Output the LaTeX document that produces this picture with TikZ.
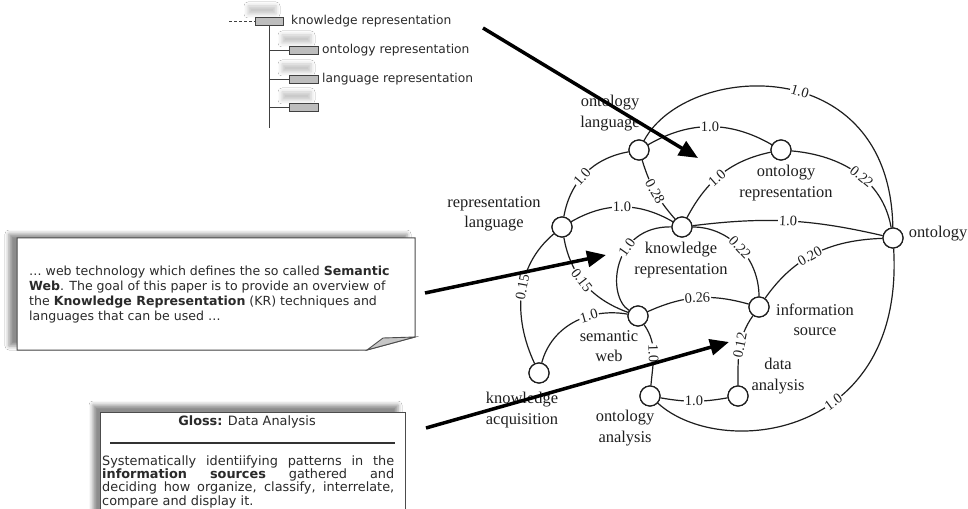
\documentclass[tikz,border=0pt]{standalone}
\usepackage{fontspec}
\setmainfont{Liberation Serif}
\newfontfamily\uifont{DejaVu Sans}
\usetikzlibrary{arrows.meta,shadows.blur}

\definecolor{ink}{HTML}{1E1E1E}
\definecolor{uitext}{HTML}{2A2A2A}
\definecolor{boxgray}{HTML}{BDBDBD}

\tikzset{
  vtx/.style={circle, draw=ink, line width=1.2bp, minimum size=20bp, inner sep=0pt, fill=white},
  link/.style={draw=ink, line width=1.2bp},
  wt/.style={font=\fontsize{14.5}{14.5}\selectfont, text=ink, fill=white, inner sep=1bp, sloped},
  vlab/.style={font=\fontsize{16.5}{20.5}\selectfont, text=ink, align=center, inner sep=0pt},
  bigarrow/.style={line width=3.5bp, draw=black, -{Triangle[length=19bp,width=16bp]}},
  tbox/.style={draw=black!75, fill=boxgray, line width=0.9bp, minimum width=28bp, minimum height=8bp, inner sep=0pt,
    blur shadow={shadow xshift=-7bp, shadow yshift=11bp, shadow opacity=22, shadow blur radius=4bp}},
  tline/.style={draw=black!75, line width=0.9bp},
  ttext/.style={font=\uifont\fontsize{12.3}{14}\selectfont, text=uitext, anchor=west, inner sep=0pt},
  notetext/.style={font=\uifont\fontsize{12.6}{14}\selectfont, text=uitext, anchor=west, inner sep=0pt},
  glosstext/.style={font=\uifont\fontsize{12.9}{14}\selectfont, text=uitext, anchor=west, inner sep=0pt},
}

\begin{document}
\begin{tikzpicture}[x=1bp, y=1bp]
\clip (0,0) rectangle (968,-509);
\fill[white] (0,0) rectangle (968,-509);

% ---------- class tree ----------
\node[tbox] (t0) at (269,-21) {};
\node[tbox, minimum width=29bp] (t1) at (303.5,-50) {};
\node[tbox, minimum width=29bp] (t2) at (303.5,-79) {};
\node[tbox, minimum width=29bp] (t3) at (303.5,-107) {};
\coordinate (tin) at (229,-21);
\coordinate (tend) at (269,-128);
\draw[tline, dashed, dash pattern=on 3bp off 2bp] (tin) -- (t0.west);
\draw[tline] (t0.south) -- (tend);
\foreach \b in {t1,t2,t3} \draw[tline] (\b.west) -- (\b.west -| t0.south);
\node[ttext] (t0l) at (291,-21) {knowledge representation};
\node[ttext] (t1l) at (322,-50) {ontology representation};
\node[ttext] (t2l) at (322,-79) {language representation};

% ---------- paper note ----------
\filldraw[draw=black!70, fill=white, line width=1bp,
  blur shadow={shadow xshift=-8bp, shadow yshift=4bp, shadow opacity=45, shadow blur radius=4bp}]
  (17,-238) -- (415,-238) -- (415,-337) -- (367,-350) -- (17,-350) -- cycle;
\filldraw[draw=black!70, fill=black!22, line width=0.9bp] (367,-350) -- (383,-338) -- (415,-337) -- cycle;
\node[notetext] (n1) at (29,-272) {\dots{} web technology which defines the so called \textbf{Semantic}};
\node[notetext] (n2) at (29,-287) {\textbf{Web}. The goal of this paper is to provide an overview of};
\node[notetext] (n3) at (29,-302) {the \textbf{Knowledge Representation} (KR) techniques and};
\node[notetext] (n4) at (29,-317) {languages that can be used \dots};

% ---------- gloss card ----------
\filldraw[draw=black!70, fill=white, line width=1bp,
  blur shadow={shadow xshift=-7bp, shadow yshift=7bp, shadow opacity=45, shadow blur radius=4bp}]
  (100,-530) -- (100,-412) -- (405,-412) -- (405,-530);
\node[glosstext, anchor=center] (gt) at (247,-422) {\textbf{Gloss:} Data Analysis};
\coordinate (rl) at (110,-443);
\coordinate (rr) at (395,-443);
\draw[draw=black!80, line width=1.2bp] (rl) -- (rr);
\node[glosstext] (g1) at (102,-462) {\makebox[292bp][s]{Systematically identiifying patterns in the}};
\node[glosstext] (g2) at (102,-475) {\makebox[292bp][s]{\textbf{information} \textbf{sources} gathered and}};
\node[glosstext] (g3) at (102,-488) {\makebox[292bp][s]{deciding how organize, classify, interrelate,}};
\node[glosstext] (g4) at (102,-502) {compare and display it.};

% ---------- concept graph: vertices ----------
\node[vtx] (OL) at (639,-150) {};
\node[vtx] (OR) at (781,-150) {};
\node[vtx] (KR) at (682,-227) {};
\node[vtx] (RL) at (562,-227) {};
\node[vtx] (O)  at (893,-238) {};
\node[vtx] (IS) at (759,-307) {};
\node[vtx] (SW) at (638,-316) {};
\node[vtx] (KA) at (539,-373) {};
\node[vtx] (OA) at (650,-396) {};
\node[vtx] (DA) at (738,-396) {};

% ---------- concept graph: links ----------
\path[link] (OL) .. controls (686,-62) and (890,-50) .. (O) node[wt, pos=0.55] {1.0};
\path[link] (OL) to[bend left=30] node[wt] {1.0} (OR);
\path[link] (OL) to[bend right=35] node[wt, pos=0.55] {1.0} (RL);
\path[link] (OL) to[bend right=12] node[wt] {0.28} (KR);
\path[link] (OR) to[out=-5, in=100] node[wt, pos=0.55] {0.22} (O);
\path[link] (KR) to[out=62, in=192] node[wt, pos=0.45] {1.0} (OR);
\path[link] (RL) to[bend left=30] node[wt] {1.0} (KR);
\path[link] (KR) to[bend left=10] node[wt] {1.0} (O);
\path[link] (KR) to[out=0, in=90] node[wt] {0.22} (IS);
\path[link] (KR) .. controls (612,-226) and (606,-296) .. (SW) node[wt, pos=0.36] {1.0};
\path[link] (RL) to[out=-80, in=160] node[wt, pos=0.45] {0.15} (SW);
\path[link] (RL) to[out=-140, in=115] node[wt, pos=0.45] {0.15} (KA);
\path[link] (SW) to[out=170, in=75] node[wt, pos=0.35] {1.0} (KA);
\path[link] (SW) to[bend left=20] node[wt] {0.26} (IS);
\path[link] (SW) to[out=-55, in=85] node[wt] {1.0} (OA);
\path[link] (IS) to[out=55, in=182] node[wt, pos=0.45] {0.20} (O);
\path[link] (IS) to[out=-125, in=90] node[wt, pos=0.45] {0.12} (DA);
\path[link] (OA) to[bend right=10] node[wt] {1.0} (DA);
\path[link] (OA) .. controls (720,-460) and (905,-440) .. (O) node[wt, pos=0.6] {1.0};

% redraw vertices over link ends
\foreach \v in {OL,OR,KR,RL,O,IS,SW,KA,OA,DA} \node[vtx] at (\v) {};

% ---------- vertex labels ----------
\node[vlab] (OLt) at (610,-113) {ontology\\language};
\node[vlab] (RLt) at (494,-214) {representation\\language};
\node[vlab] (KRt) at (681,-260) {knowledge\\representation};
\node[vlab] (ORt) at (786,-183) {ontology\\representation};
\node[vlab] (Ot)  at (938,-234) {ontology};
\node[vlab] (ISt) at (815,-320) {information\\source};
\node[vlab] (SWt) at (609,-346) {semantic\\web};
\node[vlab] (KAt) at (522,-410) {knowledge\\acquisition};
\node[vlab] (OAt) at (625,-428) {ontology\\analysis};
\node[vlab] (DAt) at (778,-376) {data\\analysis};

% ---------- pointer arrows ----------
\coordinate (a1s) at (483,-28);
\coordinate (a1e) at (698,-158);
\coordinate (a2s) at (425,-293);
\coordinate (a2e) at (606,-255);
\coordinate (a3s) at (426,-428);
\coordinate (a3e) at (729,-342);
\draw[bigarrow] (a1s) -- (a1e);
\draw[bigarrow] (a2s) -- (a2e);
\draw[bigarrow] (a3s) -- (a3e);
\end{tikzpicture}
\end{document}
